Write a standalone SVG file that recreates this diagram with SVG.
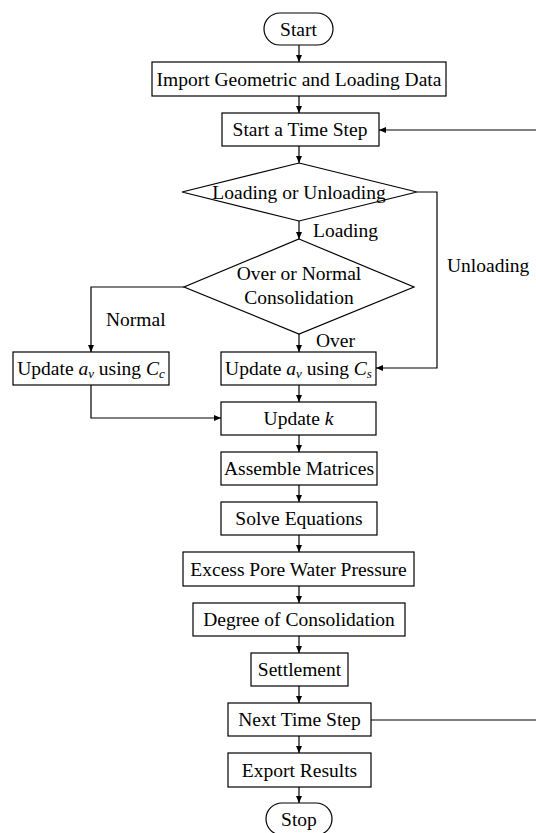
<svg xmlns="http://www.w3.org/2000/svg" width="536" height="833" viewBox="0 0 536 833">
<style>
.b{fill:#fff;stroke:#000;stroke-width:1.2}
.t{font-family:"Liberation Serif","Times New Roman",serif;font-size:19.5px;fill:#000;text-anchor:middle}
.l{font-family:"Liberation Serif","Times New Roman",serif;font-size:19.5px;fill:#000}
.i{font-style:italic}
.s{font-style:italic;font-size:13px}
.c{fill:none;stroke:#000;stroke-width:1.2}
</style>
<defs>
<marker id="ah" markerUnits="userSpaceOnUse" markerWidth="8" markerHeight="6" refX="7" refY="3" orient="auto">
<path d="M0,0 L7,3 L0,6 z" fill="#000"/>
</marker>
</defs>
<g id="connectors">
<path class="c" d="M299,45 V62" marker-end="url(#ah)"/>
<path class="c" d="M299,96 V113" marker-end="url(#ah)"/>
<path class="c" d="M299,146 V163" marker-end="url(#ah)"/>
<path class="c" d="M299,221 V239" marker-end="url(#ah)"/>
<path class="c" d="M299,334 V352" marker-end="url(#ah)"/>
<path class="c" d="M184,287 H91 V352" marker-end="url(#ah)"/>
<path class="c" d="M417,192 H437 V368 H376" marker-end="url(#ah)"/>
<path class="c" d="M299,385 V402" marker-end="url(#ah)"/>
<path class="c" d="M91,385 V418 H221" marker-end="url(#ah)"/>
<path class="c" d="M299,435 V452" marker-end="url(#ah)"/>
<path class="c" d="M299,485 V502" marker-end="url(#ah)"/>
<path class="c" d="M299,535 V552" marker-end="url(#ah)"/>
<path class="c" d="M299,586 V603" marker-end="url(#ah)"/>
<path class="c" d="M299,636 V653" marker-end="url(#ah)"/>
<path class="c" d="M299,686 V703" marker-end="url(#ah)"/>
<path class="c" d="M299,736 V753" marker-end="url(#ah)"/>
<path class="c" d="M299,787 V803" marker-end="url(#ah)"/>
<path class="c" d="M371,720 H539 V130 H379" marker-end="url(#ah)"/>
<text class="l" x="313" y="237">Loading</text>
<text class="l" x="447" y="272">Unloading</text>
<text class="l" x="106" y="326">Normal</text>
<text class="l" x="316" y="347">Over</text>
</g>
<g id="start"><rect class="b" x="264" y="13" width="69" height="32" rx="16"/><text class="t" x="298.5" y="35.5">Start</text></g>
<g id="import"><rect class="b" x="152" y="62" width="294" height="34"/><text class="t" x="299" y="85.5">Import Geometric and Loading Data</text></g>
<g id="timestep"><rect class="b" x="222" y="113" width="157" height="33"/><text class="t" x="300" y="136">Start a Time Step</text></g>
<g id="loaddec"><polygon class="b" points="299,163 417,192 299,221 182,192"/><text class="t" x="299" y="198.5">Loading or Unloading</text></g>
<g id="consdec"><polygon class="b" points="299,239 414,287 299,334 184,287"/><text class="t" x="299" y="280">Over or Normal</text><text class="t" x="299" y="304">Consolidation</text></g>
<g id="updatecc"><rect class="b" x="13" y="352" width="156" height="33"/><text class="t" x="91" y="375">Update <tspan class="i">a</tspan><tspan class="s" dy="3">v</tspan><tspan dy="-3"> using </tspan><tspan class="i">C</tspan><tspan class="s" dy="3">c</tspan></text></g>
<g id="updatecs"><rect class="b" x="221" y="352" width="155" height="33"/><text class="t" x="298.5" y="375">Update <tspan class="i">a</tspan><tspan class="s" dy="3">v</tspan><tspan dy="-3"> using </tspan><tspan class="i">C</tspan><tspan class="s" dy="3">s</tspan></text></g>
<g id="updatek"><rect class="b" x="221" y="402" width="155" height="33"/><text class="t" x="298.5" y="425">Update <tspan class="i">k</tspan></text></g>
<g id="assemble"><rect class="b" x="221" y="452" width="156" height="33"/><text class="t" x="299" y="475">Assemble Matrices</text></g>
<g id="solve"><rect class="b" x="221" y="502" width="156" height="33"/><text class="t" x="299" y="525">Solve Equations</text></g>
<g id="excess"><rect class="b" x="183" y="552" width="231" height="34"/><text class="t" x="298.5" y="575.5">Excess Pore Water Pressure</text></g>
<g id="degree"><rect class="b" x="193" y="603" width="212" height="33"/><text class="t" x="299" y="626">Degree of Consolidation</text></g>
<g id="settlement"><rect class="b" x="251" y="653" width="97" height="33"/><text class="t" x="299.5" y="676">Settlement</text></g>
<g id="next"><rect class="b" x="228" y="703" width="143" height="33"/><text class="t" x="299.5" y="726">Next Time Step</text></g>
<g id="export"><rect class="b" x="228" y="753" width="143" height="34"/><text class="t" x="299.5" y="776.5">Export Results</text></g>
<g id="stop"><rect class="b" x="266" y="803" width="66" height="32" rx="16"/><text class="t" x="299" y="825.5">Stop</text></g>
</svg>
